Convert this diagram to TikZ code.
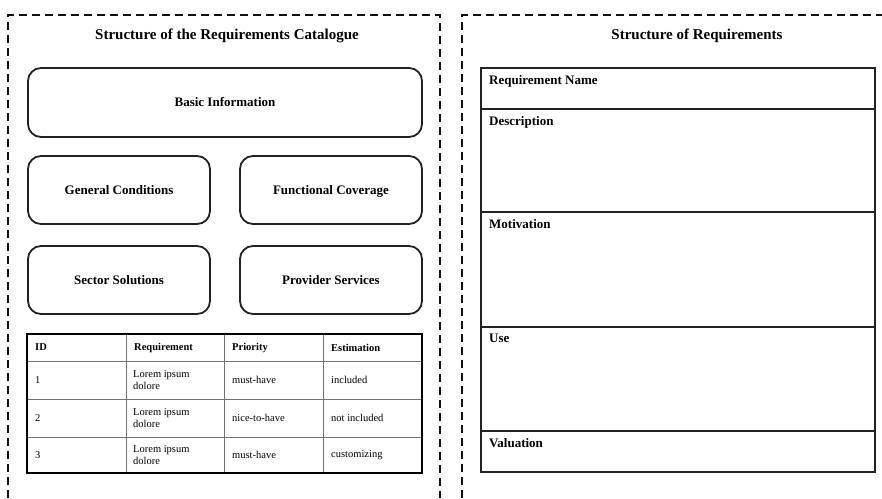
\documentclass[tikz,border=0pt]{standalone}
\usepackage{fontspec}
\setmainfont{Liberation Serif}
\usetikzlibrary{positioning}
\definecolor{framegray}{HTML}{111111}
\definecolor{boxline}{HTML}{222222}
\definecolor{gridgray}{HTML}{707070}

\begin{document}
\begin{tikzpicture}[
  x=1pt, y=-1pt,
  frame/.style={draw=framegray, line width=1.4pt, dash pattern=on 8pt off 5pt},
  heading/.style={font=\fontsize{15}{18}\selectfont\bfseries},
  block/.style={rectangle, rounded corners=13pt, draw=boxline, line width=1.8pt,
    font=\fontsize{13}{15}\selectfont\bfseries, align=center, inner sep=0pt,
    text height=8.6pt, text depth=0pt},
  cell/.style={rectangle, draw=gridgray, line width=1pt, anchor=north west,
    inner sep=0pt, outer sep=0pt},
  celltext/.style={anchor=west, align=left, inner sep=0pt,
    font=\fontsize{10.5}{12}\selectfont},
  field/.style={rectangle, draw=boxline, line width=1.5pt, anchor=north west,
    minimum width=394pt, inner sep=0pt, outer sep=0pt},
  fieldlabel/.style={anchor=north west, inner xsep=8pt, inner ysep=7pt,
    font=\fontsize{13}{15}\selectfont\bfseries}
]
  \useasboundingbox (0,0) rectangle (882,498);

  % the two dashed panels, open at the bottom
  \draw[frame] (8,498) -- (8,15) -- (440,15) -- (440,498);
  \draw[frame] (462,498) -- (462,15) -- (882,15);

  % left panel: catalogue
  \node[heading] (cattitle) at (227,36) {Structure of the Requirements Catalogue};

  \node[block, minimum width=394pt, minimum height=69pt] (basic) at (225,102.5) {Basic Information};
  \node[block, minimum width=182pt, minimum height=68pt] (general) at (119,190) {General Conditions};
  \node[block, minimum width=182pt, minimum height=68pt] (functional) at (331,190) {Functional Coverage};
  \node[block, minimum width=182pt, minimum height=68pt] (sector) at (119,280) {Sector Solutions};
  \node[block, minimum width=182pt, minimum height=68pt] (provider) at (331,280) {Provider Services};

  % table of requirements
  \foreach \col/\x/\w in {0/27/99, 1/126/98, 2/224/99, 3/323/99} {
    \foreach \row/\y/\h in {0/334/27, 1/361/38, 2/399/38, 3/437/36} {
      \node[cell, minimum width=\w pt, minimum height=\h pt] (c\row\col) at (\x,\y) {};
    }
  }
  \foreach \col/\txt in {0/ID, 1/Requirement, 2/Priority, 3/Estimation}
    \node[celltext, font=\fontsize{10.5}{12}\selectfont\bfseries, xshift=8pt] at (c0\col.west) {\txt};
  \foreach \row/\id/\prio/\est in {1/1/must-have/included, 2/2/nice-to-have/not included, 3/3/must-have/customizing} {
    \node[celltext, xshift=8pt] at (c\row0.west) {\id};
    \node[celltext, xshift=7pt] at (c\row1.west) {Lorem ipsum\\dolore};
    \node[celltext, xshift=8pt] at (c\row2.west) {\prio};
    \node[celltext, xshift=8pt] at (c\row3.west) {\est};
  }
  \draw[line width=2.4pt, black] (c00.north west) rectangle (c33.south east);

  % right panel: single requirement
  \node[heading] (reqtitle) at (697,36) {Structure of Requirements};

  \node[field, minimum height=41pt] (name) at (481,68) {};
  \node[field, minimum height=103pt] (descr) at (481,109) {};
  \node[field, minimum height=115pt] (motiv) at (481,212) {};
  \node[field, minimum height=104pt] (use) at (481,327) {};
  \node[field, minimum height=41pt] (valu) at (481,431) {};

  \node[fieldlabel] at (name.north west) {Requirement Name};
  \node[fieldlabel] at (descr.north west) {Description};
  \node[fieldlabel] at (motiv.north west) {Motivation};
  \node[fieldlabel] at (use.north west) {Use};
  \node[fieldlabel] at (valu.north west) {Valuation};
\end{tikzpicture}
\end{document}
